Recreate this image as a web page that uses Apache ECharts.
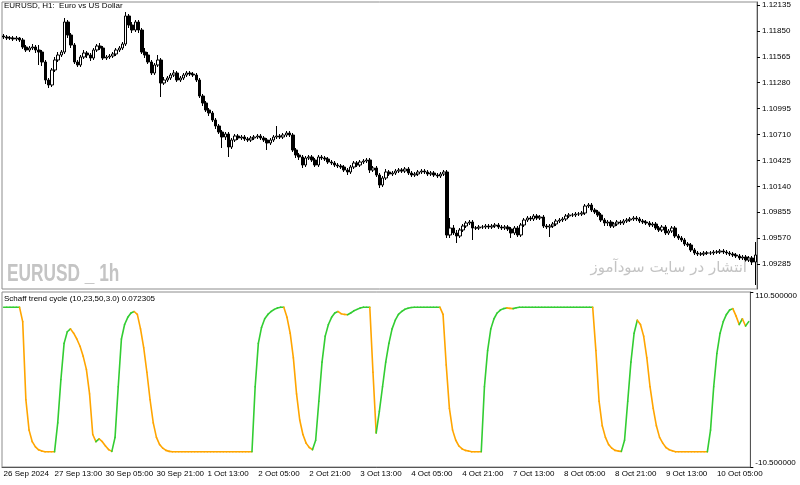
<!DOCTYPE html>
<html><head><meta charset="utf-8">
<script src="https://cdn.jsdelivr.net/npm/echarts@6/dist/echarts.min.js"></script>
<style>html,body{margin:0;padding:0;background:#fff}#c{width:800px;height:485px}</style>
</head><body><div id="c"></div>
<script>
// ---- data (EURUSD H1) ----
const firstLabel = '26 Sep 2024';
const startTime = Date.UTC(2024, 8, 26, 21); // first bar

const opens = [
1.11794,1.11783,1.11772,1.11772,1.11761,1.11772,1.11750,1.11673,1.11640,1.11662,
1.11673,1.11640,1.11618,1.11508,1.11310,1.11255,1.11420,1.11530,1.11585,1.11618,
1.11948,1.11805,1.11695,1.11508,1.11475,1.11563,1.11607,1.11585,1.11552,1.11640,
1.11684,1.11662,1.11552,1.11563,1.11574,1.11596,1.11640,1.11662,1.11706,1.12014,
1.11915,1.11860,1.11948,1.11860,1.11618,1.11585,1.11508,1.11387,1.11475,1.11530,
1.11277,1.11310,1.11332,1.11365,1.11387,1.11310,1.11332,1.11365,1.11387,1.11376,
1.11365,1.11310,1.11134,1.11057,1.10980,1.10947,1.10870,1.10804,1.10738,1.10683,
1.10716,1.10573,1.10650,1.10694,1.10672,1.10683,1.10661,1.10650,1.10672,1.10683,
1.10694,1.10672,1.10650,1.10617,1.10650,1.10683,1.10694,1.10683,1.10705,1.10727,
1.10705,1.10540,1.10485,1.10463,1.10375,1.10452,1.10463,1.10430,1.10375,1.10463,
1.10452,1.10441,1.10408,1.10397,1.10375,1.10364,1.10353,1.10320,1.10298,1.10353,
1.10397,1.10375,1.10408,1.10419,1.10430,1.10320,1.10342,1.10265,1.10155,1.10232,
1.10298,1.10276,1.10287,1.10309,1.10320,1.10309,1.10331,1.10287,1.10265,1.10276,
1.10298,1.10309,1.10298,1.10276,1.10287,1.10265,1.10254,1.10276,1.10298,1.09605,
1.09682,1.09627,1.09594,1.09660,1.09704,1.09737,1.09748,1.09682,1.09682,1.09693,
1.09693,1.09704,1.09693,1.09704,1.09715,1.09693,1.09682,1.09693,1.09671,1.09627,
1.09682,1.09605,1.09715,1.09770,1.09792,1.09781,1.09814,1.09792,1.09803,1.09704,
1.09693,1.09704,1.09726,1.09759,1.09770,1.09781,1.09814,1.09825,1.09825,1.09836,
1.09836,1.09847,1.09924,1.09935,1.09880,1.09858,1.09825,1.09770,1.09737,1.09748,
1.09704,1.09726,1.09748,1.09737,1.09759,1.09770,1.09781,1.09792,1.09781,1.09759,
1.09748,1.09737,1.09715,1.09726,1.09682,1.09660,1.09693,1.09627,1.09649,1.09682,
1.09594,1.09572,1.09550,1.09506,1.09495,1.09440,1.09407,1.09396,1.09396,1.09407,
1.09407,1.09407,1.09418,1.09418,1.09429,1.09418,1.09407,1.09396,1.09385,1.09374,
1.09352,1.09363,1.09330,1.09352,1.09308
];
const closes = [
1.11783,1.11772,1.11772,1.11761,1.11772,1.11750,1.11673,1.11640,1.11662,1.11673,
1.11640,1.11618,1.11508,1.11310,1.11255,1.11420,1.11530,1.11585,1.11618,1.11948,
1.11805,1.11695,1.11508,1.11475,1.11563,1.11607,1.11585,1.11552,1.11640,1.11684,
1.11662,1.11552,1.11563,1.11574,1.11596,1.11640,1.11662,1.11706,1.12014,1.11915,
1.11860,1.11948,1.11860,1.11618,1.11585,1.11508,1.11387,1.11475,1.11530,1.11277,
1.11310,1.11332,1.11365,1.11387,1.11310,1.11332,1.11365,1.11387,1.11376,1.11365,
1.11310,1.11134,1.11057,1.10980,1.10947,1.10870,1.10804,1.10738,1.10683,1.10716,
1.10573,1.10650,1.10694,1.10672,1.10683,1.10661,1.10650,1.10672,1.10683,1.10694,
1.10672,1.10650,1.10617,1.10650,1.10683,1.10694,1.10683,1.10705,1.10727,1.10705,
1.10540,1.10485,1.10463,1.10375,1.10452,1.10463,1.10430,1.10375,1.10463,1.10452,
1.10441,1.10408,1.10397,1.10375,1.10364,1.10353,1.10320,1.10298,1.10353,1.10397,
1.10375,1.10408,1.10419,1.10430,1.10320,1.10342,1.10265,1.10155,1.10232,1.10298,
1.10276,1.10287,1.10309,1.10320,1.10309,1.10331,1.10287,1.10265,1.10276,1.10298,
1.10309,1.10298,1.10276,1.10287,1.10265,1.10254,1.10276,1.10298,1.09605,1.09682,
1.09627,1.09594,1.09660,1.09704,1.09737,1.09748,1.09682,1.09682,1.09693,1.09693,
1.09704,1.09693,1.09704,1.09715,1.09693,1.09682,1.09693,1.09671,1.09627,1.09682,
1.09605,1.09715,1.09770,1.09792,1.09781,1.09814,1.09792,1.09803,1.09704,1.09693,
1.09704,1.09726,1.09759,1.09770,1.09781,1.09814,1.09825,1.09825,1.09836,1.09836,
1.09847,1.09924,1.09935,1.09880,1.09858,1.09825,1.09770,1.09737,1.09748,1.09704,
1.09726,1.09748,1.09737,1.09759,1.09770,1.09781,1.09792,1.09781,1.09759,1.09748,
1.09737,1.09715,1.09726,1.09682,1.09660,1.09693,1.09627,1.09649,1.09682,1.09594,
1.09572,1.09550,1.09506,1.09495,1.09440,1.09407,1.09396,1.09396,1.09407,1.09407,
1.09407,1.09418,1.09418,1.09429,1.09418,1.09407,1.09396,1.09385,1.09374,1.09352,
1.09363,1.09330,1.09352,1.09308,1.09385
];
const highs = [
1.11816,1.11805,1.11794,1.11794,1.11794,1.11783,1.11772,1.11695,1.11684,1.11706,
1.11695,1.11695,1.11640,1.11530,1.11332,1.11442,1.11563,1.11618,1.11640,1.11992,
1.11970,1.11827,1.11717,1.11530,1.11585,1.11640,1.11629,1.11607,1.11662,1.11706,
1.11717,1.11684,1.11585,1.11596,1.11618,1.11662,1.11684,1.11728,1.12058,1.12036,
1.11948,1.11970,1.11970,1.11882,1.11662,1.11618,1.11530,1.11497,1.11585,1.11552,
1.11343,1.11354,1.11387,1.11420,1.11409,1.11354,1.11387,1.11409,1.11409,1.11398,
1.11387,1.11332,1.11156,1.11079,1.11002,1.10969,1.10892,1.10826,1.10760,1.10738,
1.10738,1.10672,1.10716,1.10716,1.10705,1.10705,1.10683,1.10694,1.10705,1.10716,
1.10716,1.10694,1.10672,1.10672,1.10705,1.10804,1.10716,1.10727,1.10749,1.10749,
1.10727,1.10562,1.10507,1.10485,1.10474,1.10485,1.10485,1.10452,1.10485,1.10485,
1.10474,1.10463,1.10430,1.10419,1.10397,1.10386,1.10375,1.10342,1.10375,1.10419,
1.10419,1.10430,1.10441,1.10452,1.10452,1.10364,1.10364,1.10287,1.10254,1.10331,
1.10320,1.10309,1.10331,1.10342,1.10342,1.10353,1.10353,1.10309,1.10298,1.10320,
1.10331,1.10331,1.10320,1.10309,1.10309,1.10287,1.10298,1.10320,1.10320,1.09792,
1.09715,1.09660,1.09682,1.09726,1.09759,1.09770,1.09770,1.09704,1.09715,1.09715,
1.09726,1.09726,1.09726,1.09737,1.09737,1.09715,1.09715,1.09715,1.09693,1.09704,
1.09704,1.09737,1.09792,1.09814,1.09814,1.09836,1.09836,1.09825,1.09825,1.09726,
1.09726,1.09748,1.09781,1.09792,1.09803,1.09836,1.09847,1.09847,1.09858,1.09858,
1.09869,1.09946,1.09957,1.09957,1.09902,1.09880,1.09847,1.09792,1.09770,1.09770,
1.09748,1.09770,1.09770,1.09781,1.09792,1.09803,1.09814,1.09814,1.09803,1.09781,
1.09770,1.09759,1.09748,1.09748,1.09704,1.09715,1.09715,1.09671,1.09704,1.09704,
1.09616,1.09594,1.09572,1.09528,1.09517,1.09462,1.09429,1.09418,1.09429,1.09429,
1.09429,1.09440,1.09440,1.09451,1.09451,1.09440,1.09429,1.09418,1.09407,1.09396,
1.09385,1.09385,1.09374,1.09374,1.09528
];
const lows = [
1.11761,1.11750,1.11750,1.11739,1.11739,1.11728,1.11651,1.11618,1.11618,1.11640,
1.11607,1.11475,1.11464,1.11266,1.11222,1.11233,1.11398,1.11508,1.11563,1.11596,
1.11772,1.11662,1.11486,1.11453,1.11453,1.11541,1.11552,1.11519,1.11530,1.11618,
1.11640,1.11530,1.11530,1.11541,1.11552,1.11574,1.11618,1.11640,1.11684,1.11882,
1.11827,1.11838,1.11827,1.11596,1.11552,1.11486,1.11365,1.11365,1.11453,1.11123,
1.11255,1.11288,1.11310,1.11343,1.11288,1.11288,1.11310,1.11343,1.11354,1.11343,
1.11288,1.11112,1.11024,1.10958,1.10914,1.10848,1.10771,1.10716,1.10562,1.10650,
1.10463,1.10551,1.10628,1.10650,1.10650,1.10639,1.10628,1.10628,1.10650,1.10661,
1.10650,1.10628,1.10540,1.10595,1.10628,1.10661,1.10661,1.10661,1.10683,1.10683,
1.10518,1.10452,1.10430,1.10342,1.10353,1.10430,1.10408,1.10353,1.10353,1.10430,
1.10419,1.10386,1.10375,1.10353,1.10342,1.10331,1.10298,1.10265,1.10276,1.10331,
1.10353,1.10353,1.10386,1.10397,1.10287,1.10298,1.10243,1.10122,1.10133,1.10210,
1.10254,1.10254,1.10265,1.10287,1.10287,1.10287,1.10265,1.10243,1.10243,1.10254,
1.10276,1.10276,1.10254,1.10254,1.10243,1.10232,1.10232,1.10254,1.09572,1.09572,
1.09605,1.09517,1.09572,1.09638,1.09682,1.09715,1.09550,1.09660,1.09660,1.09671,
1.09671,1.09671,1.09671,1.09682,1.09671,1.09660,1.09660,1.09649,1.09572,1.09605,
1.09583,1.09583,1.09693,1.09748,1.09759,1.09759,1.09770,1.09770,1.09682,1.09671,
1.09583,1.09682,1.09704,1.09737,1.09748,1.09759,1.09792,1.09803,1.09803,1.09814,
1.09814,1.09825,1.09902,1.09858,1.09836,1.09803,1.09748,1.09704,1.09704,1.09682,
1.09682,1.09704,1.09715,1.09715,1.09737,1.09748,1.09759,1.09759,1.09737,1.09726,
1.09715,1.09693,1.09693,1.09660,1.09638,1.09638,1.09605,1.09605,1.09627,1.09572,
1.09550,1.09528,1.09484,1.09473,1.09418,1.09385,1.09374,1.09374,1.09374,1.09385,
1.09385,1.09385,1.09396,1.09396,1.09396,1.09385,1.09374,1.09363,1.09352,1.09330,
1.09330,1.09308,1.09308,1.09275,1.09055
];
// Schaff trend cycle (10,23,50,3.0)
const stc = [
100,100,100,100,100,100,90,36,15,7,
3.4,1.4,0.5,0,0,0,0,20,50,75,
83,85,82,78,73,66,57,40,12,7,
9,7,4,1.5,0.3,10,45,78,88,93,
96,97,95,85,72,55,36,20,10,5,
2.5,1,0.3,0,0,0,0,0,0,0,
0,0,0,0,0,0,0,0,0,0,
0,0,0,0,0,0,0,0,0,45,
75,86,92,95,97,98.5,99.5,100,100,93,
82,65,40,22,12,6,3,1.5,8,35,
62,80,88,93,96,97,95.5,95,94.8,96,
97.5,98.5,99.5,100,100,100,55,13,28,45,
62,75,85,91,95,97,98.5,99.3,99.8,100,
100,100,100,100,100,100,100,100,95,60,
30,15,8,4,2,1,0.5,0,0,0,
0,45,70,85,92,96,98,99,99.5,99.2,
99,99.6,100,100,100,100,100,100,100,100,
100,100,100,100,100,100,100,100,100,100,
100,100,100,100,100,100,70,35,18,10,
5,2.5,1,0.5,0.3,8,35,62,82,91,
88,80,65,45,30,18,10,6,3,1.5,
0.7,0,0,0,0,0,0,0,0,0,
0,0,15,45,68,82,90,95,98,99,
94,88,92,87,90
];
const priceTicks = [1.09285,1.09570,1.09855,1.10140,1.10425,1.10710,1.10995,1.11280,1.11565,1.11850,1.12135];
const stcTicks = [-10.5, 110.5];
const labelEvery = 16;

// ---- categories: hourly bars, weekends skipped ----
const MONTHS = ['Jan','Feb','Mar','Apr','May','Jun','Jul','Aug','Sep','Oct','Nov','Dec'];
const times = [];
for (let t = startTime; times.length < closes.length; t += 3600000) {
  const d = new Date(t), wd = d.getUTCDay();
  if (wd === 0 || wd === 6) continue;
  times.push(d.getUTCDate() + ' ' + MONTHS[d.getUTCMonth()] + ' ' + String(d.getUTCHours()).padStart(2,'0') + ':00');
}
const candles = closes.map((c, i) => [opens[i], c, Math.min(lows[i], opens[i], c), Math.max(highs[i], opens[i], c)]);
// colour of each STC segment: green while rising, orange while falling
const UP = '#32CD32', DOWN = '#FFA500';
const segColor = [];
stc.forEach((v, i) => {
  if (i === 0) { segColor.push(UP); return; }
  segColor.push(v > stc[i-1] ? UP : v < stc[i-1] ? DOWN : segColor[i-1]);
});
const stcSeg = stc.map((v, i) => [i, v, i > 0 ? stc[i-1] : v]);

const FONT = 'Liberation Sans, Arial, sans-serif';
const chart = echarts.init(document.getElementById('c'), null, {renderer: 'canvas'});
chart.setOption({
  animation: false,
  backgroundColor: '#fff',
  title: [
    {text: 'EURUSD, H1:  Euro vs US Dollar', left: 4, top: 2, padding: 0,
     textStyle: {fontFamily: FONT, fontSize: 8, fontWeight: 'normal', color: '#000'}},
    {text: 'Schaff trend cycle (10,23,50,3.0) 0.072305', left: 4, top: 295, padding: 0,
     textStyle: {fontFamily: FONT, fontSize: 8, fontWeight: 'normal', color: '#000'}},
    {text: 'انتشار در سایت سودآموز', right: 53, top: 261, padding: 0,
     textStyle: {fontFamily: 'DejaVu Sans, Noto Sans, sans-serif', fontSize: 15, fontWeight: 'normal', color: '#c4c4c4'}}
  ],
  graphic: [
    {type: 'text', left: 7, top: 262, scaleX: 0.72, silent: true,
     style: {text: 'EURUSD _ 1h', fontFamily: 'Liberation Sans, Arial, sans-serif', fontSize: 24, fontWeight: 'bold', fill: '#c4c4c4'}}
  ],
  grid: [
    {left: 2, top: 2, width: 755, height: 287, show: true, borderColor: '#8c8c8c', borderWidth: 1},
    {left: 2, top: 292, width: 755, height: 175, show: true, borderColor: '#8c8c8c', borderWidth: 1}
  ],
  xAxis: [
    {type: 'category', gridIndex: 0, data: times, boundaryGap: true, show: false},
    {type: 'category', gridIndex: 1, data: times, boundaryGap: true,
     axisLine: {onZero: false, lineStyle: {color: '#555', width: 1}},
     axisTick: {alignWithLabel: true, length: 3, interval: (i) => i % labelEvery === 0, lineStyle: {color: '#000'}},
     axisLabel: {interval: (i) => i % labelEvery === 0, align: 'left', margin: 3, fontFamily: FONT, fontSize: 8, color: '#000',
                 formatter: (v, i) => i === 0 ? firstLabel : v},
     splitLine: {show: false}}
  ],
  yAxis: [
    {type: 'value', gridIndex: 0, position: 'right', min: 1.09011, max: 1.12168, scale: true,
     axisLine: {show: true, lineStyle: {color: '#555'}},
     axisTick: {show: true, length: 3, customValues: priceTicks, lineStyle: {color: '#000'}},
     axisLabel: {customValues: priceTicks, formatter: (v) => v.toFixed(5), margin: 5, fontFamily: FONT, fontSize: 8, color: '#000'},
     splitLine: {show: false}},
    {type: 'value', gridIndex: 1, position: 'right', min: -10.5, max: 110.5,
     axisLine: {show: true, lineStyle: {color: '#555'}},
     axisTick: {show: true, length: 3, customValues: stcTicks, lineStyle: {color: '#000'}},
     axisLabel: {customValues: stcTicks, formatter: (v) => v.toFixed(6), margin: 5, fontFamily: FONT, fontSize: 8, color: '#000',
                 verticalAlignMinLabel: 'bottom', verticalAlignMaxLabel: 'top'},
     splitLine: {show: false}}
  ],
  series: [
    {type: 'candlestick', xAxisIndex: 0, yAxisIndex: 0, data: candles, barWidth: 3,
     itemStyle: {color: '#ffffff', color0: '#000000', borderColor: '#000000', borderColor0: '#000000', borderWidth: 1}},
    {type: 'custom', xAxisIndex: 1, yAxisIndex: 1, data: stcSeg,
     renderItem: (params, api) => {
       const i = api.value(0);
       if (i === 0) return null;
       const p0 = api.coord([i - 1, api.value(2)]);
       const p1 = api.coord([i, api.value(1)]);
       return {type: 'line', shape: {x1: p0[0], y1: p0[1], x2: p1[0], y2: p1[1]},
               style: {stroke: segColor[i], lineWidth: 1.6, lineCap: 'round'}};
     }}
  ]
});
</script>
</body></html>
